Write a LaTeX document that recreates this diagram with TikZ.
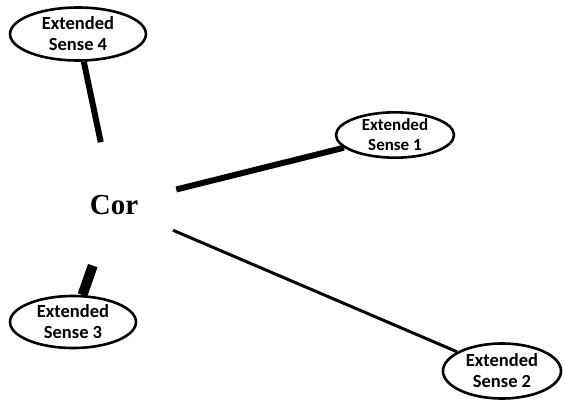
\documentclass[tikz,border=0pt]{standalone}
\usepackage{fontspec}
\usetikzlibrary{shapes.geometric}
\newfontfamily\senseFont{Carlito}
\newfontfamily\coreFont{Liberation Serif}

\begin{document}
\begin{tikzpicture}[x=1pt,y=-1pt,
    sense/.style={draw,ellipse,line width=2.6pt,inner sep=0pt,align=center,
      font=\senseFont\bfseries\fontsize{18.5}{21}\selectfont},
    corenode/.style={circle,minimum size=128pt,inner sep=0pt,
      font=\coreFont\bfseries\fontsize{29}{31}\selectfont},
    link/.style={line cap=butt}]
  \useasboundingbox (0,0) rectangle (566,402);
  \node[corenode] (cor) at (114,205) {Cor};
  \node[sense,minimum width=136pt,minimum height=53pt] (s4) at (78,34) {Extended\\Sense 4};
  \node[sense,minimum width=118pt,minimum height=43pt,
    font=\senseFont\bfseries\fontsize{17}{20}\selectfont] (s1) at (395,135) {Extended\\Sense 1};
  \node[sense,minimum width=126pt,minimum height=52pt] (s3) at (73,322) {Extended\\Sense 3};
  \node[sense,minimum width=118pt,minimum height=55pt] (s2) at (502,371) {Extended\\Sense 2};
  % connectors
  \draw[link,line width=6pt] (cor) -- (s4);
  \draw[link,line width=6pt] (cor) -- (s1);
  \draw[link,line width=10pt] (cor) -- (s3);
  \draw[link,line width=3pt] (cor) -- (s2);
\end{tikzpicture}
\end{document}
